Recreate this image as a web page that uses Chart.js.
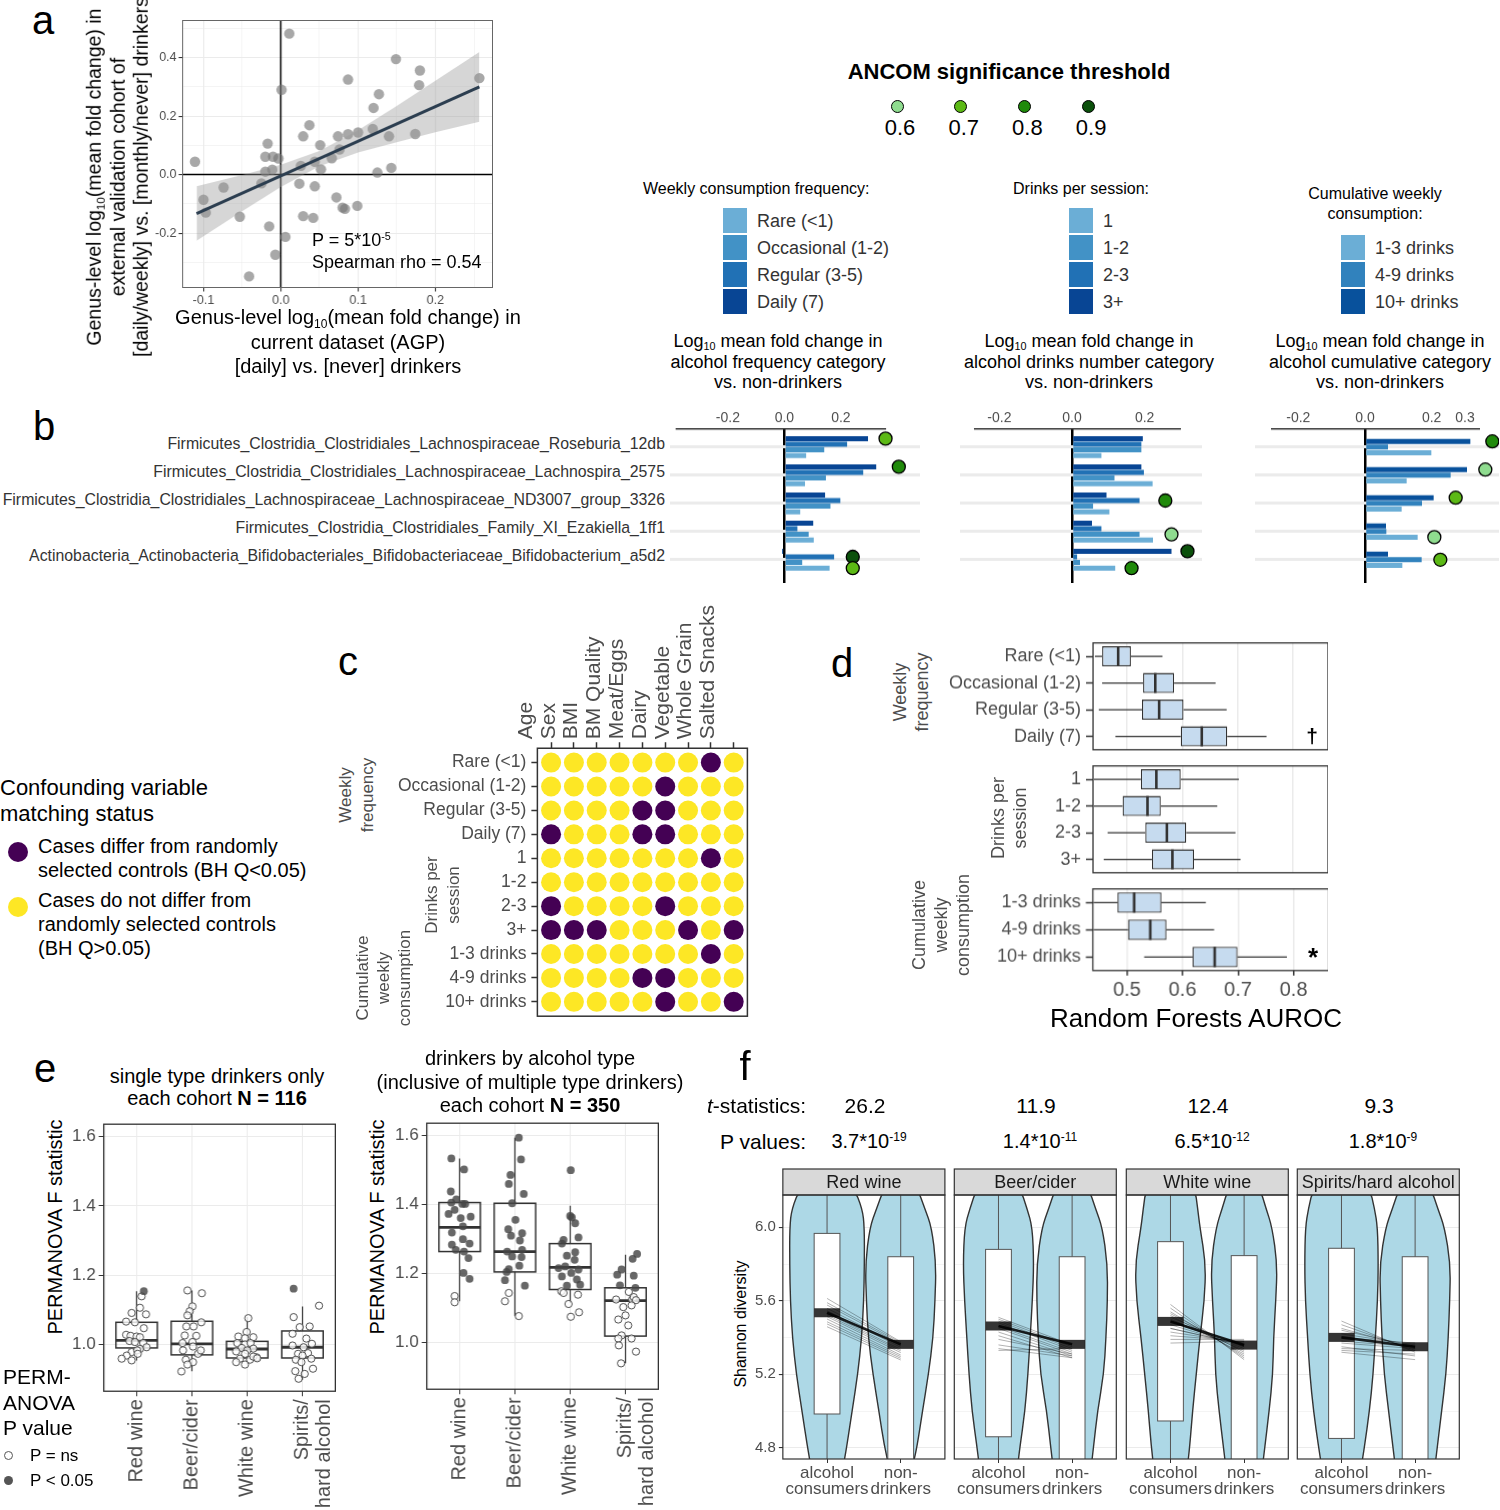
<!DOCTYPE html>
<html>
<head>
<meta charset="utf-8">
<title>Alcohol consumption and the gut microbiome</title>
<script src="https://cdn.jsdelivr.net/npm/chart.js@4.4.1/dist/chart.umd.min.js"></script>
<style>
  body { margin: 0; background: #fff; }
  #fig { position: relative; width: 1500px; height: 1510px; overflow: hidden;
         font-family: "Liberation Sans", Arial, Helvetica, sans-serif; color: #000; }
  .t { position: absolute; white-space: nowrap; line-height: 1; }
  .mk { position: absolute; box-sizing: border-box; }
  sup { font-size: 60%; vertical-align: 0.6em; line-height: 0; }
  sub { font-size: 60%; vertical-align: -0.3em; line-height: 0; }
</style>
</head>
<body>
<div id="fig"></div>
<script>
// ---------- data: panel a ----------
const aAgp = [-0.111, -0.100, -0.097, -0.074, -0.053, -0.041, -0.025, -0.020, -0.020, -0.017, -0.015, -0.011, -0.010, -0.007, -0.003, 0.001, 0.006, 0.011, 0.024, 0.026, 0.029, 0.029, 0.037, 0.042, 0.044, 0.044, 0.051, 0.052, 0.066, 0.072, 0.074, 0.076, 0.080, 0.083, 0.087, 0.087, 0.099, 0.100, 0.119, 0.120, 0.125, 0.127, 0.140, 0.143, 0.149, 0.174, 0.179, 0.180, 0.257];
const aValidation = [0.044, -0.086, -0.130, -0.044, -0.144, -0.348, -0.030, 0.010, 0.061, 0.106, -0.177, 0.017, 0.061, -0.274, 0.055, 0.290, -0.213, 0.482, -0.031, 0.030, 0.131, -0.142, 0.169, -0.148, -0.040, 0.044, 0.101, 0.018, 0.056, -0.078, 0.131, 0.086, -0.113, -0.117, 0.325, 0.138, -0.107, 0.144, 0.156, 0.228, 0.007, 0.275, 0.131, 0.023, 0.395, 0.139, 0.306, 0.356, 0.330];
const aFitX = [-0.109, 0.257];
const aFitY = [-0.133, 0.300];
const aBandX = [-0.109, -0.05, 0, 0.05, 0.1, 0.15, 0.2, 0.257];
const aBandLo = [-0.226, -0.125, -0.042, 0.029, 0.076, 0.111, 0.145, 0.181];
const aBandHi = [-0.040, -0.001, 0.034, 0.081, 0.152, 0.235, 0.321, 0.419];
const aMajorX = [-0.1, 0, 0.1, 0.2];
const aMinorX = [-0.05, 0.05, 0.15, 0.25];
const aMajorY = [-0.2, 0, 0.2, 0.4];
const aMinorY = [-0.3, -0.1, 0.1, 0.3, 0.5];

// ---------- data: panel b ----------
const bTaxa = [
  'Firmicutes_Clostridia_Clostridiales_Lachnospiraceae_Roseburia_12db',
  'Firmicutes_Clostridia_Clostridiales_Lachnospiraceae_Lachnospira_2575',
  'Firmicutes_Clostridia_Clostridiales_Lachnospiraceae_Lachnospiraceae_ND3007_group_3326',
  'Firmicutes_Clostridia_Clostridiales_Family_XI_Ezakiella_1ff1',
  'Actinobacteria_Actinobacteria_Bifidobacteriales_Bifidobacteriaceae_Bifidobacterium_a5d2'
];
const freqLabels = ['Rare (<1)', 'Occasional (1-2)', 'Regular (3-5)', 'Daily (7)'];
const drinkLabels = ['1', '1-2', '2-3', '3+'];
const cumLabels = ['1-3 drinks', '4-9 drinks', '10+ drinks'];
const freqDaily = [0.296, 0.325, 0.144, 0.102, -0.008];
const freqRegular = [0.222, 0.279, 0.198, 0.046, 0.176];
const freqOccasional = [0.141, 0.147, 0.163, 0.086, 0.063];
const freqRare = [0.077, 0.073, 0.056, 0.104, 0.160];
const drinks3plus = [0.195, 0.191, 0.095, 0.055, 0.274];
const drinks2to3 = [0.191, 0.198, 0.186, 0.081, 0.014];
const drinks1to2 = [0.191, 0.117, 0.058, 0.186, 0.022];
const drinks1 = [0.081, 0.222, 0.103, 0.223, 0.119];
const cum10plus = [0.316, 0.306, 0.206, 0.063, 0.069];
const cum4to9 = [0.069, 0.257, 0.171, 0.064, 0.170];
const cum1to3 = [0.199, 0.125, 0.110, 0.158, 0.112];
// ANCOM hits: [taxon, bar row (0 = top bar), value, threshold]
const freqAncom = [[0, 0, 0.358, 0.7], [1, 0, 0.405, 0.8], [4, 1, 0.242, 0.9], [4, 3, 0.242, 0.7]];
const drinksAncom = [[2, 1, 0.257, 0.8], [3, 2, 0.274, 0.6], [4, 0, 0.318, 0.9], [4, 3, 0.164, 0.8]];
const cumAncom = [[0, 0, 0.382, 0.8], [1, 0, 0.361, 0.6], [2, 0, 0.272, 0.7], [3, 2, 0.208, 0.6], [4, 1, 0.226, 0.7]];
const ancomLevels = [0.6, 0.7, 0.8, 0.9];
const ancomColors = ['#8fdc8f', '#5cb915', '#208a0b', '#0b500b'];
const blues4 = ['#084594', '#2171b5', '#4292c6', '#6baed6'];
const blues3 = ['#08519c', '#3182bd', '#6baed6'];

// ---------- data: panel c ----------
const cRows = ['Rare (<1)', 'Occasional (1-2)', 'Regular (3-5)', 'Daily (7)', '1', '1-2', '2-3', '3+', '1-3 drinks', '4-9 drinks', '10+ drinks'];
const cCols = ['Age', 'Sex', 'BMI', 'BM Quality', 'Meat/Eggs', 'Dairy', 'Vegetable', 'Whole Grain', 'Salted Snacks'];
const cDiffer = [
  [0, 0, 0, 0, 0, 0, 0, 1, 0],
  [0, 0, 0, 0, 0, 1, 0, 0, 0],
  [0, 0, 0, 0, 1, 1, 0, 0, 0],
  [1, 0, 0, 0, 1, 1, 0, 0, 0],
  [0, 0, 0, 0, 0, 0, 0, 1, 0],
  [0, 0, 0, 0, 0, 0, 0, 0, 0],
  [1, 0, 0, 0, 0, 1, 0, 0, 0],
  [1, 1, 1, 0, 0, 0, 1, 0, 1],
  [0, 0, 0, 0, 0, 0, 0, 1, 0],
  [0, 0, 0, 0, 1, 1, 0, 0, 0],
  [0, 0, 0, 0, 0, 1, 0, 0, 1]
];

// ---------- data: panel d (Random Forests AUROC) ----------
const dFreqLo = [0.442, 0.455, 0.449, 0.479];
const dFreqQ1 = [0.455, 0.529, 0.527, 0.597];
const dFreqMed = [0.484, 0.551, 0.558, 0.635];
const dFreqQ3 = [0.507, 0.585, 0.602, 0.681];
const dFreqHi = [0.564, 0.660, 0.680, 0.752];
const dDrinkLo = [0.440, 0.440, 0.465, 0.458];
const dDrinkQ1 = [0.525, 0.492, 0.533, 0.545];
const dDrinkMed = [0.553, 0.537, 0.572, 0.582];
const dDrinkQ3 = [0.597, 0.561, 0.607, 0.621];
const dDrinkHi = [0.702, 0.663, 0.696, 0.705];
const dCumLo = [0.440, 0.440, 0.531];
const dCumQ1 = [0.483, 0.502, 0.618];
const dCumMed = [0.513, 0.542, 0.658];
const dCumQ3 = [0.562, 0.571, 0.699];
const dCumHi = [0.642, 0.657, 0.788];
const dTicks = [0.5, 0.6, 0.7, 0.8];

// ---------- data: panel e (PERMANOVA F) ----------
const eCats = ['Red wine', 'Beer/cider', 'White wine', ['Spirits/', 'hard alcohol']];
const eTicks = [1.0, 1.2, 1.4, 1.6];
const e1Lo = [0.954, 0.923, 0.942, 0.898];
const e1Q1 = [0.990, 0.970, 0.961, 0.961];
const e1Med = [1.012, 1.002, 0.987, 0.992];
const e1Q3 = [1.064, 1.067, 1.009, 1.039];
const e1Hi = [1.154, 1.156, 1.079, 1.110];
const e2Lo = [1.120, 1.077, 1.115, 0.940];
const e2Q1 = [1.264, 1.205, 1.154, 1.019];
const e2Med = [1.334, 1.264, 1.218, 1.122];
const e2Q3 = [1.406, 1.404, 1.287, 1.159];
const e2Hi = [1.534, 1.594, 1.397, 1.255];
// iterations: [jitter offset, F statistic, P<0.05]
const e1Red = [[0.13,1.154,1],[0.09,1.139,0],[0.06,1.106,0],[0.17,1.087,0],[-0.09,1.091,0],[-0.19,1.066,0],[-0.03,1.064,0],[0.13,1.047,0],[-0.19,1.028,0],[-0.11,1.025,0],[0.0,1.023,0],[0.06,1.021,0],[-0.13,1.010,0],[-0.03,1.007,0],[0.12,1.004,0],[0.18,0.992,0],[0.06,0.987,0],[-0.09,0.978,0],[0.01,0.983,0],[-0.18,0.968,0],[-0.27,0.959,0],[-0.09,0.954,0],[0.02,0.973,0]];
const e1Beer = [[-0.08,1.156,0],[0.18,1.148,0],[0.01,1.110,0],[-0.04,1.096,0],[-0.08,1.084,0],[0.17,1.064,0],[-0.10,1.052,0],[0.03,1.052,0],[0.08,1.025,0],[-0.17,1.004,0],[0.01,1.007,0],[0.02,0.994,0],[-0.16,0.983,0],[0.11,0.973,0],[-0.11,0.956,0],[0.02,0.949,0],[-0.08,0.942,0],[-0.19,0.922,0],[0.16,0.983,0],[-0.13,1.026,0]];
const e1White = [[0.02,1.076,0],[-0.01,1.036,0],[-0.16,1.023,0],[-0.04,1.018,0],[0.11,1.021,0],[-0.18,1.004,0],[-0.04,1.0,0],[0.06,1.004,0],[-0.10,0.990,0],[0.11,0.988,0],[-0.20,0.980,0],[0.0,0.983,0],[0.17,0.963,0],[-0.04,0.973,0],[0.05,0.956,0],[-0.13,0.959,0],[-0.20,0.949,0],[-0.04,0.942,0],[0.11,0.965,0],[0.18,0.960,0]];
const e1Spirits = [[-0.16,1.161,1],[0.30,1.112,0],[-0.16,1.079,0],[0.13,1.052,0],[-0.05,1.050,0],[-0.18,1.031,0],[0.07,1.017,0],[0.17,1.002,0],[0.02,0.992,0],[-0.18,0.997,0],[-0.08,0.973,0],[0.10,0.975,0],[0.16,0.959,0],[0.0,0.968,0],[-0.12,0.956,0],[-0.02,0.949,0],[-0.13,0.923,0],[0.19,0.930,0],[-0.07,0.901,0],[0.04,0.915,0]];
const e2Red = [[-0.15,1.534,1],[0.08,1.502,1],[-0.16,1.438,1],[-0.06,1.415,1],[-0.15,1.406,1],[0.05,1.402,1],[0.10,1.402,1],[-0.09,1.385,1],[-0.20,1.373,1],[0.02,1.361,1],[0.20,1.365,1],[0.06,1.337,1],[-0.14,1.319,1],[0.06,1.300,1],[-0.14,1.284,1],[0.18,1.287,1],[-0.07,1.269,1],[0.08,1.264,1],[0.16,1.245,1],[0.07,1.202,1],[0.18,1.185,1],[-0.09,1.135,0],[-0.09,1.117,0]];
const e2Beer = [[0.07,1.594,1],[0.11,1.531,1],[-0.08,1.486,1],[-0.11,1.460,1],[0.16,1.431,1],[-0.05,1.404,1],[0.01,1.356,1],[-0.12,1.329,1],[0.13,1.317,1],[-0.07,1.310,1],[0.09,1.296,1],[-0.14,1.264,1],[0.13,1.269,1],[-0.05,1.250,1],[0.12,1.248,1],[-0.11,1.213,1],[-0.15,1.205,1],[0.08,1.223,1],[-0.18,1.181,1],[0.18,1.165,1],[-0.11,1.144,0],[-0.18,1.120,0],[0.07,1.077,0]];
const e2White = [[0.01,1.500,1],[0.0,1.367,1],[0.03,1.363,1],[0.09,1.346,1],[-0.12,1.298,1],[0.15,1.305,1],[-0.15,1.287,1],[0.09,1.262,1],[-0.06,1.252,1],[0.08,1.240,1],[-0.09,1.221,1],[-0.21,1.216,1],[0.15,1.212,1],[0.02,1.202,1],[-0.15,1.192,1],[0.12,1.183,1],[-0.06,1.165,1],[0.18,1.168,1],[-0.16,1.149,0],[-0.12,1.144,0],[0.14,1.139,0],[-0.03,1.112,0],[0.16,1.088,0],[0.01,1.075,0]];
const e2Spirits = [[0.21,1.257,1],[0.13,1.243,1],[-0.07,1.212,1],[0.15,1.194,1],[-0.15,1.197,1],[-0.10,1.166,1],[0.18,1.159,1],[0.06,1.147,0],[-0.17,1.125,0],[0.12,1.125,0],[0.15,1.132,0],[0.19,1.123,0],[-0.04,1.103,0],[0.11,1.108,0],[0.0,1.079,0],[-0.13,1.067,0],[0.05,1.050,0],[-0.07,1.021,0],[-0.13,1.012,0],[0.11,1.012,0],[-0.12,0.992,0],[0.19,0.974,0],[-0.08,0.940,0]];

// ---------- data: panel f (Shannon diversity) ----------
const fFacets = ['Red wine', 'Beer/cider', 'White wine', 'Spirits/hard alcohol'];
const fCats = [['alcohol', 'consumers'], ['non-', 'drinkers']];
const fTstat = ['26.2', '11.9', '12.4', '9.3'];
const fPMant = ['3.7', '1.4', '6.5', '1.8'];
const fPExp = ['-19', '-11', '-12', '-9'];
const fMajorY = [4.8, 5.2, 5.6, 6.0];
const fMinorY = [5.0, 5.4, 5.8];
const fViolinY = [4.70, 4.80, 5.00, 5.20, 5.40, 5.60, 5.80, 6.00, 6.10, 6.22];
const fRedW = [[0.22, 0.265, 0.34, 0.417, 0.47, 0.498, 0.507, 0.507, 0.48, 0.36], [0.16, 0.22, 0.296, 0.377, 0.44, 0.466, 0.48, 0.42, 0.33, 0.22]];
const fBeerW = [[0.26, 0.29, 0.36, 0.40, 0.43, 0.46, 0.48, 0.46, 0.39, 0.29], [0.26, 0.29, 0.345, 0.43, 0.46, 0.48, 0.48, 0.41, 0.32, 0.22]];
const fWhiteW = [[0.23, 0.26, 0.30, 0.35, 0.40, 0.46, 0.48, 0.40, 0.37, 0.33], [0.25, 0.28, 0.34, 0.39, 0.40, 0.43, 0.45, 0.38, 0.30, 0.21]];
const fSpiritsW = [[0.27, 0.31, 0.38, 0.43, 0.46, 0.49, 0.50, 0.49, 0.45, 0.38], [0.27, 0.30, 0.36, 0.42, 0.45, 0.47, 0.48, 0.40, 0.31, 0.21]];
const fBoxQ1 = [[4.984, 4.60], [4.86, 4.60], [4.946, 4.60], [4.851, 4.60]];
const fBoxQ3 = [[5.967, 5.84], [5.88, 5.84], [5.922, 5.846], [5.886, 5.84]];
const fWhisker = [4.2, 6.6];
const fMean = [[5.535, 5.363], [5.463, 5.363], [5.488, 5.359], [5.401, 5.350]];
const fPairAlc = [
  [5.613, 5.590, 5.577, 5.559, 5.546, 5.532, 5.523, 5.514, 5.501, 5.486, 5.474, 5.459],
  [5.51, 5.50, 5.49, 5.48, 5.46, 5.45, 5.43, 5.41, 5.39, 5.36, 5.34, 5.33],
  [5.58, 5.56, 5.54, 5.52, 5.50, 5.49, 5.47, 5.45, 5.43, 5.41, 5.39, 5.37, 5.45, 5.51, 5.53],
  [5.49, 5.47, 5.45, 5.44, 5.42, 5.40, 5.38, 5.37, 5.35, 5.34, 5.33, 5.32]
];
const fPairNon = [
  [5.377, 5.372, 5.365, 5.356, 5.347, 5.336, 5.328, 5.318, 5.305, 5.296, 5.287, 5.278],
  [5.36, 5.35, 5.34, 5.33, 5.32, 5.31, 5.30, 5.29, 5.31, 5.30, 5.29, 5.34],
  [5.28, 5.29, 5.30, 5.31, 5.33, 5.34, 5.35, 5.36, 5.37, 5.38, 5.39, 5.38, 5.36, 5.35, 5.32],
  [5.32, 5.33, 5.34, 5.35, 5.36, 5.37, 5.35, 5.34, 5.30, 5.33, 5.31, 5.28]
];

// ---------- helpers ----------
const fig = document.getElementById('fig');
const FONT = '"Liberation Sans", Arial, Helvetica, sans-serif';
Chart.defaults.font.family = FONT;
Chart.defaults.color = '#4d4d4d';
Chart.defaults.animation = false;
Chart.defaults.responsive = false;
Chart.defaults.maintainAspectRatio = false;
Chart.defaults.events = [];
Chart.defaults.plugins.legend.display = false;
Chart.defaults.plugins.tooltip.enabled = false;

function label(html, x, y, size, opt = {}) {
  const d = document.createElement('div');
  d.className = 't';
  d.innerHTML = html;
  d.style.fontSize = size + 'px';
  d.style.left = x + 'px';
  d.style.top = y + 'px';
  if (opt.lh) d.style.lineHeight = opt.lh + 'px';
  if (opt.color) d.style.color = opt.color;
  if (opt.bold) d.style.fontWeight = 'bold';
  const align = opt.align || 'c';
  d.style.textAlign = {l: 'left', c: 'center', r: 'right'}[align];
  const tx = {l: '0', c: '-50%', r: '-100%'}[align];
  d.style.transform = 'translate(' + tx + ', -50%)' + (opt.rot ? ' rotate(' + opt.rot + 'deg)' : '');
  fig.appendChild(d);
}

function marker(cx, cy, w, h, fill, opt = {}) {
  const d = document.createElement('div');
  d.className = 'mk';
  Object.assign(d.style, {
    left: (cx - w / 2) + 'px', top: (cy - h / 2) + 'px', width: w + 'px', height: h + 'px',
    background: fill, borderRadius: opt.round ? '50%' : '0', border: opt.border || 'none'
  });
  fig.appendChild(d);
}

// place a chart so that its chart area lands on the given page rectangle
function mount(area, config) {
  const box = document.createElement('div');
  box.style.position = 'absolute';
  const cv = document.createElement('canvas');
  cv.width = area.r - area.l + 240;
  cv.height = area.b - area.t + 240;
  box.appendChild(cv);
  fig.appendChild(box);
  const chart = new Chart(cv, config);
  for (let k = 0; k < 3; k++) {
    const ca = chart.chartArea;
    chart.resize(area.r - area.l + ca.left + chart.width - ca.right,
                 area.b - area.t + ca.top + chart.height - ca.bottom);
  }
  box.style.left = (area.l - chart.chartArea.left) + 'px';
  box.style.top = (area.t - chart.chartArea.top) + 'px';
  return chart;
}

const isIn = (list, v) => list.some(m => Math.abs(m - v) < 1e-9);
const tickList = vals => scale => { scale.ticks = vals.map(v => ({value: v})); };
const sorted = arr => arr.slice().sort((p, q) => p - q);

function framePlugin(color, width) {
  return {
    id: 'frame',
    afterDraw(chart) {
      const {ctx, chartArea: a} = chart;
      ctx.save();
      ctx.strokeStyle = color;
      ctx.lineWidth = width;
      ctx.strokeRect(a.left, a.top, a.right - a.left, a.bottom - a.top);
      ctx.restore();
    }
  };
}

// ---------- panel a ----------
const crossPlugin = {
  id: 'cross',
  beforeDatasetsDraw(chart) {
    const {ctx, chartArea: a, scales: {x, y}} = chart;
    const px = x.getPixelForValue(0), py = y.getPixelForValue(0);
    ctx.save();
    ctx.strokeStyle = '#000';
    ctx.lineWidth = 1.5;
    ctx.beginPath();
    ctx.moveTo(px, a.top); ctx.lineTo(px, a.bottom);
    ctx.moveTo(a.left, py); ctx.lineTo(a.right, py);
    ctx.stroke();
    ctx.restore();
  }
};

function gridAxis(major, minor, min, max, size) {
  return {
    type: 'linear', min, max,
    afterBuildTicks: tickList(sorted(major.concat(minor))),
    ticks: { font: {size}, color: '#4d4d4d', padding: 2, autoSkip: false,
             callback: v => isIn(major, v) ? v.toFixed(1) : '' },
    grid: { color: '#ebebeb', lineWidth: c => isIn(major, c.tick.value) ? 1.1 : 0.55,
            tickColor: c => isIn(major, c.tick.value) ? '#333' : 'rgba(0,0,0,0)', tickLength: 4 },
    border: { display: false }
  };
}

mount({l: 183, r: 492, t: 20, b: 287}, {
  type: 'line',
  data: { datasets: [
    { data: aAgp.map((x, i) => ({x, y: aValidation[i]})), showLine: false, pointRadius: 5.2,
      pointBackgroundColor: 'rgba(115,115,115,0.62)', pointBorderWidth: 0, order: 3 },
    { data: aBandX.map((x, i) => ({x, y: aBandLo[i]})), borderWidth: 0, pointRadius: 0, fill: false, order: 2 },
    { data: aBandX.map((x, i) => ({x, y: aBandHi[i]})), borderWidth: 0, pointRadius: 0, fill: '-1',
      backgroundColor: 'rgba(153,153,153,0.4)', order: 2 },
    { data: aFitX.map((x, i) => ({x, y: aFitY[i]})), borderColor: '#2c3e50', borderWidth: 3, pointRadius: 0, order: 1 }
  ]},
  options: {
    scales: {
      x: gridAxis(aMajorX, aMinorX, -0.127, 0.274, 12.5),
      y: gridAxis(aMajorY, aMinorY, -0.386, 0.527, 12.5)
    }
  },
  plugins: [crossPlugin, framePlugin('#666', 1)]
});

label('a', 43, 20, 40);
label('Genus-level log<sub>10</sub>(mean fold change) in<br>external validation cohort of<br>[daily/weekly] vs. [monthly/never] drinkers',
      118, 177, 19.5, {rot: -90, lh: 23.5});
label('Genus-level log<sub>10</sub>(mean fold change) in<br>current dataset (AGP)<br>[daily] vs. [never] drinkers',
      348, 342, 20, {lh: 24.5});
label('P = 5*10<sup>-5</sup>', 312, 240, 18, {align: 'l'});
label('Spearman rho = 0.54', 312, 262, 18, {align: 'l'});

// ---------- legends for panel b ----------
label('ANCOM significance threshold', 1009, 72, 22, {bold: true});
ancomLevels.forEach((lv, i) => {
  marker(897 + i * 63.7, 106, 13, 13, ancomColors[i], {round: true, border: '1px solid #000'});
  label(lv.toFixed(1), 900 + i * 63.7, 128, 22);
});

function blueLegend(titleHtml, tx, ty, talign, sqX, labels, colors, firstRow) {
  label(titleHtml, tx, ty, 16, {align: talign, lh: 19.5});
  labels.forEach((lb, i) => {
    const cy = 220 + (firstRow + i) * 27;
    marker(sqX + 12, cy, 24, 25, colors[colors.length - 1 - i]);
    label(lb, sqX + 34, cy + 1, 18, {align: 'l', color: '#333'});
  });
}
blueLegend('Weekly consumption frequency:', 643, 189, 'l', 723, freqLabels, blues4, 0);
blueLegend('Drinks per session:', 1013, 189, 'l', 1069, drinkLabels, blues4, 0);
blueLegend('Cumulative weekly<br>consumption:', 1375, 203, 'c', 1341, cumLabels, blues3, 1);

[['alcohol frequency category', 778], ['alcohol drinks number category', 1089], ['alcohol cumulative category', 1380]]
  .forEach(([txt, cx]) => label('Log<sub>10</sub> mean fold change in<br>' + txt + '<br>vs. non-drinkers', cx, 362, 18, {lh: 20.5}));

// ---------- panel b ----------
function axisLine(from, to) {
  return {
    id: 'axisline',
    afterDraw(chart) {
      const {ctx, chartArea: a, scales: {x}} = chart;
      ctx.save();
      ctx.strokeStyle = '#333';
      ctx.lineWidth = 1.5;
      ctx.beginPath();
      ctx.moveTo(x.getPixelForValue(from), a.top);
      ctx.lineTo(x.getPixelForValue(to), a.top);
      ctx.stroke();
      ctx.restore();
    }
  };
}

function ancomPlugin(hits) {
  return {
    id: 'ancom',
    afterDatasetsDraw(chart) {
      const {ctx, scales: {x}} = chart;
      ctx.save();
      hits.forEach(([taxon, row, v, thr]) => {
        const el = chart.getDatasetMeta(row).data[taxon];
        ctx.beginPath();
        ctx.arc(x.getPixelForValue(v), el.y, 6.5, 0, Math.PI * 2);
        ctx.fillStyle = ancomColors[ancomLevels.indexOf(thr)];
        ctx.fill();
        ctx.lineWidth = 1.3;
        ctx.strokeStyle = '#000';
        ctx.stroke();
      });
      ctx.restore();
    }
  };
}

function bPanel(area, series, colors, range, span, ticks, hits, catPct) {
  return mount(area, {
    type: 'bar',
    data: { datasets: series.map((vals, k) => ({
      data: vals.map((v, i) => ({x: v, y: i})),
      backgroundColor: colors[k], borderWidth: 0,
      categoryPercentage: catPct, barPercentage: 0.9
    })) },
    options: {
      indexAxis: 'y',
      scales: {
        x: { type: 'linear', position: 'top', min: range[0], max: range[1],
             afterBuildTicks: tickList(ticks),
             ticks: { font: {size: 14}, color: '#4d4d4d', padding: 2, autoSkip: false, callback: v => v.toFixed(1) },
             grid: { color: c => (c.tick && c.tick.value === 0) ? '#000' : 'rgba(0,0,0,0)',
                     lineWidth: c => (c.tick && c.tick.value === 0) ? 2.5 : 0, drawTicks: false },
             border: { display: false } },
        y: { type: 'linear', reverse: true, min: -0.643, max: 4.857, offset: false,
             afterBuildTicks: tickList(bTaxa.map((_, i) => i)),
             ticks: { display: false },
             grid: { color: '#ebebeb', lineWidth: 3, drawTicks: false, offset: false },
             border: { display: false } }
      }
    },
    plugins: [axisLine(span[0], span[1]), ancomPlugin(hits)]
  });
}

const bArea1 = {l: 670, r: 920, t: 429, b: 583};
const b1 = bPanel(bArea1, [freqDaily, freqRegular, freqOccasional, freqRare], blues4,
                  [-0.405, 0.48], [-0.385, 0.36], [-0.2, 0, 0.2], freqAncom, 0.8);
bPanel({l: 960, r: 1202, t: 429, b: 583}, [drinks3plus, drinks2to3, drinks1to2, drinks1], blues4,
       [-0.3085, 0.358], [-0.27, 0.30], [-0.2, 0, 0.2], drinksAncom, 0.8);
bPanel({l: 1255, r: 1499, t: 429, b: 583}, [cum10plus, cum4to9, cum1to3], blues3,
       [-0.33, 0.402], [-0.282, 0.345], [-0.2, 0, 0.2, 0.3], cumAncom, 0.6);

label('b', 44, 426, 40);
bTaxa.forEach((name, i) => {
  const py = bArea1.t + b1.scales.y.getPixelForValue(i) - b1.chartArea.top - 3;
  label(name, 665, py, 15.85, {align: 'r', color: '#333'});
});

// ---------- panel c ----------
const cYellow = [], cPurple = [];
cDiffer.forEach((row, i) => row.forEach((v, j) => (v ? cPurple : cYellow).push({x: j, y: i})));

mount({l: 537, r: 747, t: 748, b: 1016}, {
  type: 'scatter',
  data: { datasets: [
    { data: cYellow, pointRadius: 10, pointBackgroundColor: '#fde725', pointBorderWidth: 0 },
    { data: cPurple, pointRadius: 10, pointBackgroundColor: '#440154', pointBorderWidth: 0 }
  ]},
  options: {
    scales: {
      x: { type: 'linear', position: 'top', min: -0.6, max: 8.6,
           afterBuildTicks: tickList(cCols.map((_, i) => i)),
           ticks: { autoSkip: false, minRotation: 90, maxRotation: 90, font: {size: 21}, color: '#4d4d4d',
                    padding: 3, callback: v => cCols[v] },
           grid: { drawOnChartArea: false, tickLength: 6, tickColor: '#333', tickWidth: 1.5 },
           border: { display: false } },
      y: { type: 'linear', reverse: true, min: -0.6, max: 10.6,
           afterBuildTicks: tickList(cRows.map((_, i) => i)),
           ticks: { autoSkip: false, font: {size: 17.5}, color: '#4d4d4d', padding: 5, callback: v => cRows[v] },
           grid: { drawOnChartArea: false, tickLength: 6, tickColor: '#333', tickWidth: 1.5 },
           border: { display: false } }
    }
  },
  plugins: [framePlugin('#333', 1.5)]
});

label('c', 348, 661, 40);
label('Weekly<br>frequency', 357, 795, 17, {rot: -90, lh: 22, color: '#4d4d4d'});
label('Drinks per<br>session', 443, 895, 17, {rot: -90, lh: 22, color: '#4d4d4d'});
label('Cumulative<br>weekly<br>consumption', 383, 978, 17, {rot: -90, lh: 21, color: '#4d4d4d'});

label('Confounding variable<br>matching status', 0, 801, 22, {align: 'l', lh: 26});
marker(18, 852, 20, 20, '#440154', {round: true});
label('Cases differ from randomly<br>selected controls (BH Q&lt;0.05)', 38, 858, 20, {align: 'l', lh: 24});
marker(18, 907, 20, 20, '#fde725', {round: true});
label('Cases do not differ from<br>randomly selected controls<br>(BH Q&gt;0.05)', 38, 924, 20, {align: 'l', lh: 24});

// ---------- panel d ----------
function whiskerPlugin(lo, med, hi) {
  return {
    id: 'whisk',
    beforeDatasetsDraw(chart) {
      const {ctx, scales: {x}} = chart;
      const box = chart.data.datasets[0].data;
      ctx.save();
      ctx.strokeStyle = '#333';
      ctx.lineWidth = 1.2;
      chart.getDatasetMeta(0).data.forEach((el, i) => {
        ctx.beginPath();
        ctx.moveTo(x.getPixelForValue(lo[i]), el.y); ctx.lineTo(x.getPixelForValue(box[i][0]), el.y);
        ctx.moveTo(x.getPixelForValue(box[i][1]), el.y); ctx.lineTo(x.getPixelForValue(hi[i]), el.y);
        ctx.stroke();
      });
      ctx.restore();
    },
    afterDatasetsDraw(chart) {
      const {ctx, scales: {x}} = chart;
      ctx.save();
      ctx.strokeStyle = '#333';
      ctx.lineWidth = 2.6;
      chart.getDatasetMeta(0).data.forEach((el, i) => {
        const px = x.getPixelForValue(med[i]);
        ctx.beginPath();
        ctx.moveTo(px, el.y - el.height / 2); ctx.lineTo(px, el.y + el.height / 2);
        ctx.stroke();
      });
      ctx.restore();
    }
  };
}

function dFacet(area, labels, lo, q1, med, q3, hi, showX) {
  return mount(area, {
    type: 'bar',
    data: { labels, datasets: [{
      data: q1.map((v, i) => [v, q3[i]]),
      backgroundColor: '#c6dbef', borderColor: '#333', borderWidth: 1.3, borderSkipped: false,
      categoryPercentage: 0.75, barPercentage: 1
    }]},
    options: {
      indexAxis: 'y',
      scales: {
        x: { type: 'linear', min: 0.4386, max: 0.863, afterBuildTicks: tickList(dTicks),
             ticks: { display: showX, font: {size: 20}, color: '#4d4d4d', padding: 3, callback: v => v.toFixed(1) },
             grid: { color: '#ebebeb', lineWidth: 1.5, drawTicks: showX, tickColor: '#333', tickLength: 5 },
             border: { display: false } },
        y: { ticks: { font: {size: 18}, color: '#4d4d4d', padding: 5 },
             grid: { drawOnChartArea: false, offset: false, tickColor: '#333', tickLength: 7, tickWidth: 1.5 },
             border: { display: false } }
      }
    },
    plugins: [whiskerPlugin(lo, med, hi), framePlugin('#333', 1.3)]
  });
}

dFacet({l: 1093, r: 1328, t: 643, b: 749}, freqLabels, dFreqLo, dFreqQ1, dFreqMed, dFreqQ3, dFreqHi, false);
dFacet({l: 1093, r: 1328, t: 766, b: 872}, drinkLabels, dDrinkLo, dDrinkQ1, dDrinkMed, dDrinkQ3, dDrinkHi, false);
dFacet({l: 1093, r: 1328, t: 889, b: 970}, cumLabels, dCumLo, dCumQ1, dCumMed, dCumQ3, dCumHi, true);

label('d', 842, 663, 40);
label('Weekly<br>frequency', 911, 692, 18, {rot: -90, lh: 22, color: '#4d4d4d'});
label('Drinks per<br>session', 1009, 818, 18, {rot: -90, lh: 22, color: '#4d4d4d'});
label('Cumulative<br>weekly<br>consumption', 941, 925, 18, {rot: -90, lh: 22, color: '#4d4d4d'});
label('†', 1312, 735, 21, {bold: true});
label('*', 1313, 957, 26, {bold: true});
label('Random Forests AUROC', 1196, 1018, 26);

// ---------- panel e ----------
function eBoxPlugin(lo, q1, med, q3, hi) {
  return {
    id: 'ebox',
    beforeDatasetsDraw(chart) {
      const {ctx, scales: {x, y}} = chart;
      ctx.save();
      ctx.strokeStyle = '#333';
      q1.forEach((_, g) => {
        const cx = x.getPixelForValue(g), hw = x.getPixelForValue(g + 0.375) - cx;
        const pTop = y.getPixelForValue(q3[g]), pBot = y.getPixelForValue(q1[g]);
        ctx.lineWidth = 1.2;
        ctx.beginPath();
        ctx.moveTo(cx, y.getPixelForValue(hi[g])); ctx.lineTo(cx, pTop);
        ctx.moveTo(cx, pBot); ctx.lineTo(cx, y.getPixelForValue(lo[g]));
        ctx.stroke();
        ctx.lineWidth = 1.5;
        ctx.strokeRect(cx - hw, pTop, 2 * hw, pBot - pTop);
        const pm = y.getPixelForValue(med[g]);
        ctx.lineWidth = 2.8;
        ctx.beginPath();
        ctx.moveTo(cx - hw, pm); ctx.lineTo(cx + hw, pm);
        ctx.stroke();
      });
      ctx.restore();
    }
  };
}

function ePanel(area, groups, lo, q1, med, q3, hi) {
  const ns = [], sig = [];
  groups.forEach((pts, g) => pts.forEach(([dx, v, s]) => (s ? sig : ns).push({x: g + dx, y: v})));
  return mount(area, {
    type: 'scatter',
    data: { datasets: [
      { data: sig, pointRadius: 3.9, pointBackgroundColor: 'rgba(70,70,70,0.82)', pointBorderWidth: 0 },
      { data: ns, pointRadius: 3.6, pointBackgroundColor: 'rgba(255,255,255,0.8)',
        pointBorderColor: 'rgba(60,60,60,0.9)', pointBorderWidth: 1 }
    ]},
    options: {
      scales: {
        x: { type: 'linear', min: -0.595, max: 3.595, afterBuildTicks: tickList(eCats.map((_, i) => i)),
             ticks: { autoSkip: false, minRotation: 90, maxRotation: 90, font: {size: 20, lineHeight: 1.1},
                      color: '#4d4d4d', padding: 3, callback: v => eCats[v] },
             grid: { color: '#ebebeb', tickColor: '#333', tickLength: 5 },
             border: { display: false } },
        y: { type: 'linear', min: 0.865, max: 1.636, afterBuildTicks: tickList(eTicks),
             ticks: { font: {size: 17}, color: '#4d4d4d', padding: 3, callback: v => v.toFixed(1) },
             grid: { color: '#ebebeb', tickColor: '#333', tickLength: 5 },
             border: { display: false } }
      }
    },
    plugins: [eBoxPlugin(lo, q1, med, q3, hi), framePlugin('#333', 1.3)]
  });
}

ePanel({l: 104, r: 335, t: 1124, b: 1391}, [e1Red, e1Beer, e1White, e1Spirits], e1Lo, e1Q1, e1Med, e1Q3, e1Hi);
ePanel({l: 427, r: 658, t: 1123, b: 1389}, [e2Red, e2Beer, e2White, e2Spirits], e2Lo, e2Q1, e2Med, e2Q3, e2Hi);

label('e', 45, 1068, 40);
label('single type drinkers only<br>each cohort <b>N = 116</b>', 217, 1087, 20, {lh: 22});
label('drinkers by alcohol type<br>(inclusive of multiple type drinkers)<br>each cohort <b>N = 350</b>', 530, 1082, 20, {lh: 23.5});
label('PERMANOVA F statistic', 55, 1227, 20, {rot: -90});
label('PERMANOVA F statistic', 377, 1227, 20, {rot: -90});
label('PERM-<br>ANOVA<br>P value', 3, 1402, 21, {align: 'l', lh: 25.5});
marker(8, 1455, 9, 9, '#fff', {round: true, border: '1px solid #555'});
label('P = ns', 30, 1455, 17, {align: 'l'});
marker(8, 1480, 9, 9, '#555', {round: true});
label('P &lt; 0.05', 30, 1480, 17, {align: 'l'});

// ---------- panel f ----------
const fViolinW = [fRedW, fBeerW, fWhiteW, fSpiritsW];

function smoothPath(ctx, pts) {
  ctx.moveTo(pts[0][0], pts[0][1]);
  for (let i = 1; i < pts.length - 1; i++) {
    const mx = (pts[i][0] + pts[i + 1][0]) / 2, my = (pts[i][1] + pts[i + 1][1]) / 2;
    ctx.quadraticCurveTo(pts[i][0], pts[i][1], mx, my);
  }
  ctx.lineTo(pts[pts.length - 1][0], pts[pts.length - 1][1]);
}

function violinPlugin(k) {
  return {
    id: 'violins',
    beforeDatasetsDraw(chart) {
      const {ctx, chartArea: a, scales: {x, y}} = chart;
      ctx.save();
      ctx.beginPath();
      ctx.rect(a.left, a.top, a.right - a.left, a.bottom - a.top);
      ctx.clip();
      fViolinW[k].forEach((w, g) => {
        const pts = fViolinY.map((v, i) => [x.getPixelForValue(g - w[i]), y.getPixelForValue(v)]);
        for (let i = fViolinY.length - 1; i >= 0; i--) pts.push([x.getPixelForValue(g + w[i]), y.getPixelForValue(fViolinY[i])]);
        ctx.beginPath();
        smoothPath(ctx, pts);
        ctx.closePath();
        ctx.fillStyle = '#add8e6';
        ctx.fill();
        ctx.strokeStyle = '#333';
        ctx.lineWidth = 1.4;
        ctx.stroke();

        const cx = x.getPixelForValue(g), hw = x.getPixelForValue(g + 0.175) - cx;
        ctx.beginPath();
        ctx.moveTo(cx, y.getPixelForValue(fWhisker[0]));
        ctx.lineTo(cx, y.getPixelForValue(fWhisker[1]));
        ctx.strokeStyle = '#555';
        ctx.lineWidth = 1;
        ctx.stroke();
        const pTop = y.getPixelForValue(fBoxQ3[k][g]), pBot = y.getPixelForValue(fBoxQ1[k][g]);
        ctx.fillStyle = '#fff';
        ctx.fillRect(cx - hw, pTop, 2 * hw, pBot - pTop);
        ctx.strokeRect(cx - hw, pTop, 2 * hw, pBot - pTop);
        const pm = y.getPixelForValue(fMean[k][g]);
        ctx.fillStyle = 'rgba(25,25,25,0.88)';
        ctx.fillRect(cx - hw, pm - 4.5, 2 * hw, 9);
      });
      ctx.restore();
    }
  };
}

function stripPlugin(title) {
  return {
    id: 'strip',
    afterDraw(chart) {
      const {ctx, chartArea: a} = chart;
      const top = a.top - 26;
      ctx.save();
      ctx.fillStyle = '#d9d9d9';
      ctx.fillRect(a.left, top, a.right - a.left, 26);
      ctx.strokeStyle = '#333';
      ctx.lineWidth = 1.2;
      ctx.strokeRect(a.left, top, a.right - a.left, 26);
      ctx.fillStyle = '#1a1a1a';
      ctx.font = '18px ' + FONT;
      ctx.textAlign = 'center';
      ctx.textBaseline = 'middle';
      ctx.fillText(title, (a.left + a.right) / 2, top + 14);
      ctx.restore();
    }
  };
}

function fPanel(area, k, showY) {
  const pairs = fPairAlc[k].map((s, j) => ({
    data: [{x: 0, y: s}, {x: 1, y: fPairNon[k][j]}],
    showLine: true, borderColor: 'rgba(0,0,0,0.3)', borderWidth: 1, pointRadius: 0
  }));
  pairs.push({ data: [{x: 0, y: fMean[k][0]}, {x: 1, y: fMean[k][1]}],
               showLine: true, borderColor: 'rgba(0,0,0,0.85)', borderWidth: 2.6, pointRadius: 0 });
  return mount(area, {
    type: 'scatter',
    data: { datasets: pairs },
    options: {
      layout: { padding: { top: 30 } },
      scales: {
        x: { type: 'linear', min: -0.6, max: 1.6, afterBuildTicks: tickList([0, 1]),
             ticks: { autoSkip: false, maxRotation: 0, font: {size: 17, lineHeight: 0.95}, color: '#4d4d4d',
                      padding: 2, callback: v => fCats[v] },
             grid: { color: '#ebebeb', tickColor: '#333', tickLength: 4 },
             border: { display: false } },
        y: { type: 'linear', min: 4.739, max: 6.176, afterBuildTicks: tickList(sorted(fMajorY.concat(fMinorY))),
             ticks: { display: showY, autoSkip: false, font: {size: 15}, color: '#4d4d4d', padding: 3,
                      callback: v => isIn(fMajorY, v) ? v.toFixed(1) : '' },
             grid: { color: '#ebebeb', lineWidth: c => isIn(fMajorY, c.tick.value) ? 1.1 : 0.55,
                     drawTicks: showY, tickColor: c => isIn(fMajorY, c.tick.value) ? '#333' : 'rgba(0,0,0,0)',
                     tickLength: 4 },
             border: { display: false } }
      }
    },
    plugins: [violinPlugin(k), stripPlugin(fFacets[k]), framePlugin('#333', 1.2)]
  });
}

const fLefts = [783, 954, 1126, 1297];
fLefts.forEach((l, k) => fPanel({l, r: l + 162, t: 1195, b: 1459}, k, k === 0));

label('f', 745, 1066, 40);
label('<i>t</i>-statistics:', 707, 1105, 21, {align: 'l'});
label('P values:', 720, 1141, 21, {align: 'l'});
fLefts.forEach((l, k) => {
  label(fTstat[k], l + 82, 1105, 21);
  label(fPMant[k] + '*10<sup>' + fPExp[k] + '</sup>', l + 86, 1141, 20);
});
label('Shannon diversity', 741, 1324, 16, {rot: -90});
</script>
</body>
</html>
